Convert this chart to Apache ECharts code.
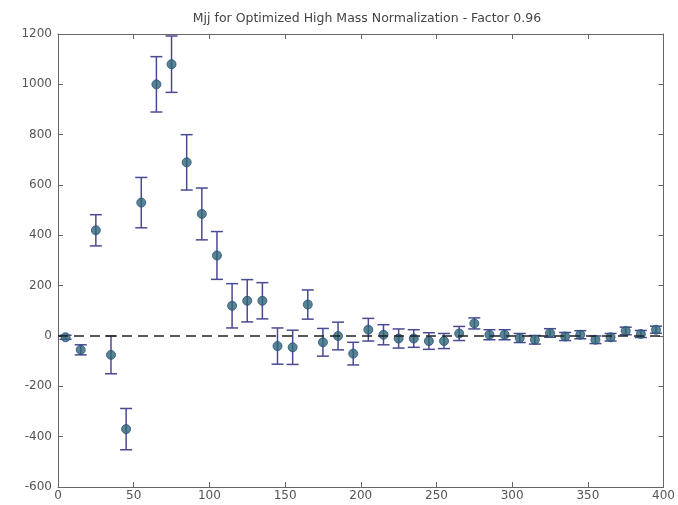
<!DOCTYPE html>
<html>
<head>
<meta charset="utf-8">
<script src="https://cdn.jsdelivr.net/npm/echarts@6/dist/echarts.min.js"></script>
<style>
  html, body { margin: 0; padding: 0; background: #fff; }
  #chart { width: 678px; height: 505px; }
</style>
</head>
<body>
<div id="chart"></div>
<script>
// Mjj bin centres
const mjj = [5, 15, 25, 35, 45, 55, 65, 75, 85, 95, 105, 115, 125, 135, 145, 155, 165, 175, 185, 195,
  205, 215, 225, 235, 245, 255, 265, 275, 285, 295, 305, 315, 325, 335, 345, 355, 365, 375, 385, 395]
// values
const values = [-5, -55, 420, -75, -370, 530, 1000, 1080, 690, 485, 320, 120, 140, 140, -40, -45, 125, -25, 0, -70,
  25, 5, -10, -10, -20, -20, 10, 50, 5, 5, -8, -15, 12, -2, 5, -15, -5, 20, 8, 25]
// symmetric errors
const errors = [8, 20, 62, 75, 82, 100, 110, 112, 110, 103, 95, 88, 84, 72, 72, 68, 58, 55, 55, 45,
  45, 40, 38, 35, 33, 30, 28, 22, 20, 20, 18, 17, 17, 16, 16, 15, 15, 15, 14, 14]
const xTicks = [0, 50, 100, 150, 200, 250, 300, 350, 400]
const yTicks = [-600, -400, -200, 0, 200, 400, 600, 800, 1000, 1200]

const pointColor = '#2e6676'
const barColor = '#4a4a92'
const axisColor = '#666'

const chart = echarts.init(document.getElementById('chart'))

const points = mjj.map((x, i) => [x, values[i]])
const bars = mjj.map((x, i) => [x, values[i], values[i] - errors[i], values[i] + errors[i]])

const boxAxis = {
  axisLine: { show: true, onZero: false, lineStyle: { color: axisColor, width: 1 } },
  axisTick: { show: true, inside: true, length: 5, lineStyle: { color: axisColor } },
  splitLine: { show: false }
}

const tickLabel = { color: '#555', fontSize: 12, fontFamily: 'DejaVu Sans', formatter: (v) => String(v) }

const option = {
  animation: false,
  title: {
    text: 'Mjj for Optimized High Mass Normalization - Factor 0.96',
    left: 362,
    textAlign: 'center',
    top: 7,
    textStyle: { fontFamily: 'DejaVu Sans', fontSize: 12.5, fontWeight: 'normal', color: '#444' }
  },
  grid: { left: 58, right: 12, top: 34, bottom: 18 },
  xAxis: [
    {
      type: 'value',
      min: xTicks[0],
      max: xTicks[xTicks.length - 1],
      interval: 50,
      ...boxAxis,
      axisLabel: { ...tickLabel, margin: 3 }
    },
    {
      type: 'value',
      position: 'top',
      min: xTicks[0],
      max: xTicks[xTicks.length - 1],
      interval: 50,
      ...boxAxis,
      axisLabel: { show: false }
    }
  ],
  yAxis: [
    {
      type: 'value',
      min: yTicks[0],
      max: yTicks[yTicks.length - 1],
      interval: 200,
      ...boxAxis,
      axisLabel: { ...tickLabel, margin: 6 }
    },
    {
      type: 'value',
      position: 'right',
      min: yTicks[0],
      max: yTicks[yTicks.length - 1],
      interval: 200,
      ...boxAxis,
      axisLabel: { show: false }
    }
  ],
  series: [
    {
      name: 'errors',
      type: 'custom',
      data: bars,
      z: 2,
      renderItem: (params, api) => {
        const x = api.value(0)
        const lo = api.coord([x, api.value(2)])
        const hi = api.coord([x, api.value(3)])
        const cap = 6
        const style = { stroke: barColor, lineWidth: 1.5, fill: null }
        return {
          type: 'group',
          children: [
            { type: 'line', shape: { x1: lo[0], y1: lo[1], x2: hi[0], y2: hi[1] }, style },
            { type: 'line', shape: { x1: lo[0] - cap, y1: lo[1], x2: lo[0] + cap, y2: lo[1] }, style },
            { type: 'line', shape: { x1: hi[0] - cap, y1: hi[1], x2: hi[0] + cap, y2: hi[1] }, style }
          ]
        }
      }
    },
    {
      name: 'Mjj',
      type: 'scatter',
      data: points,
      symbol: 'circle',
      symbolSize: 9,
      z: 3,
      itemStyle: { color: pointColor, borderColor: '#2a4f80', borderWidth: 1 },
      markLine: {
        silent: true,
        symbol: 'none',
        label: { show: false },
        lineStyle: { color: '#222', type: [10, 6], width: 1.5 },
        data: [{ yAxis: 0 }]
      }
    }
  ]
}

chart.setOption(option)
</script>
</body>
</html>
